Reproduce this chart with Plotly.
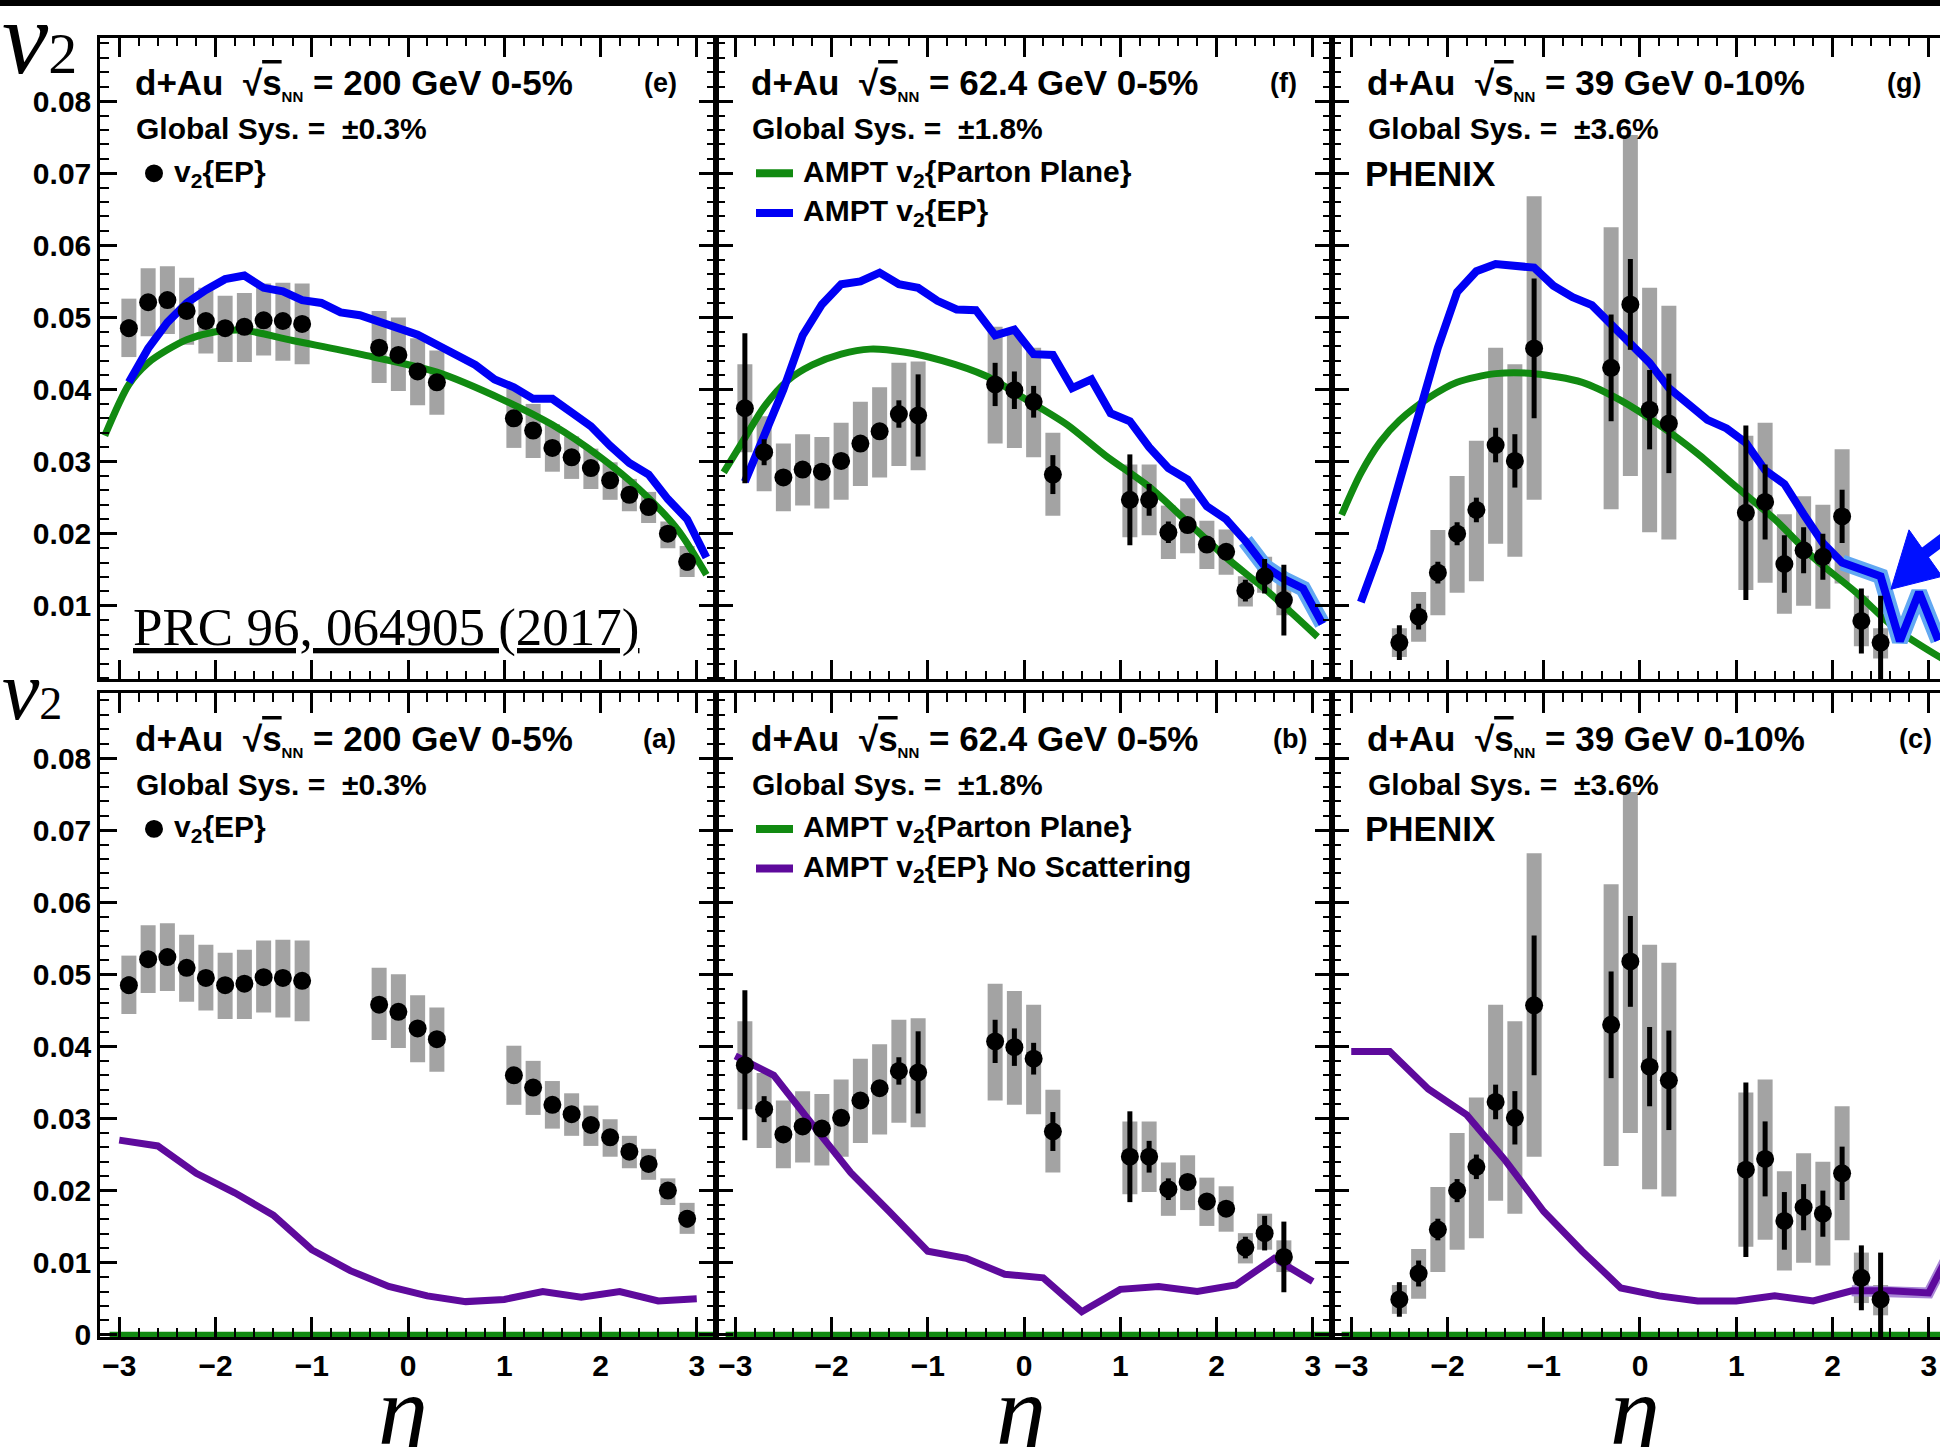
import plotly.graph_objects as go

W, H = 1940, 1447

# ---------------- data: PHENIX d+Au v2{EP} ----------------
eta_200 = [-2.9, -2.7, -2.5, -2.3, -2.1, -1.9, -1.7, -1.5, -1.3, -1.1,
           -0.3, -0.1, 0.1, 0.3, 1.1, 1.3, 1.5, 1.7, 1.9, 2.1, 2.3, 2.5, 2.7, 2.9]
v2_200 = [0.0485, 0.0521, 0.0524, 0.0509, 0.0495, 0.0485, 0.0487, 0.0496, 0.0495, 0.0491,
          0.0458, 0.0448, 0.0425, 0.0410, 0.0360, 0.0343, 0.0319, 0.0306, 0.0291, 0.0274,
          0.0254, 0.0237, 0.0200, 0.0161]
stat_200 = [0.0012, 0.0006, 0.0006, 0.0006, 0.0006, 0.0006, 0.0006, 0.0006, 0.0006, 0.0006,
            0.0006, 0.0006, 0.0006, 0.0006, 0.0006, 0.0006, 0.0006, 0.0006, 0.0006, 0.0006,
            0.0006, 0.0006, 0.0006, 0.0012]
sys_lo_200 = [0.0445, 0.0474, 0.0477, 0.0462, 0.0450, 0.0438, 0.0438, 0.0447, 0.0440, 0.0435,
              0.0409, 0.0398, 0.0378, 0.0365, 0.0319, 0.0305, 0.0286, 0.0276, 0.0262, 0.0247,
              0.0231, 0.0215, 0.0180, 0.0140]
sys_hi_200 = [0.0526, 0.0568, 0.0571, 0.0555, 0.0541, 0.0530, 0.0534, 0.0547, 0.0548, 0.0547,
              0.0509, 0.0500, 0.0471, 0.0454, 0.0401, 0.0380, 0.0352, 0.0335, 0.0318, 0.0299,
              0.0276, 0.0258, 0.0217, 0.0183]

eta_62 = [-2.9, -2.7, -2.5, -2.3, -2.1, -1.9, -1.7, -1.5, -1.3, -1.1,
          -0.3, -0.1, 0.1, 0.3, 1.1, 1.3, 1.5, 1.7, 1.9, 2.1, 2.3, 2.5, 2.7]
v2_62 = [0.0374, 0.0313, 0.0278, 0.0289, 0.0286, 0.0301, 0.0325, 0.0342, 0.0366, 0.0364,
         0.0407, 0.0399, 0.0383, 0.0282, 0.0247, 0.0247, 0.0202, 0.0212, 0.0185, 0.0175,
         0.0121, 0.0141, 0.0108]
stat_62 = [0.0104, 0.0018, 0.0008, 0.0008, 0.0008, 0.0008, 0.0008, 0.0008, 0.0019, 0.0057,
           0.0030, 0.0026, 0.0022, 0.0027, 0.0063, 0.0022, 0.0015, 0.0010, 0.0010, 0.0010,
           0.0015, 0.0024, 0.0049]
sys_lo_62 = [0.0313, 0.0259, 0.0231, 0.0239, 0.0235, 0.0247, 0.0266, 0.0278, 0.0294, 0.0288,
             0.0325, 0.0319, 0.0306, 0.0225, 0.0195, 0.0198, 0.0165, 0.0173, 0.0151, 0.0143,
             0.0099, 0.0118, 0.0087]
sys_hi_62 = [0.0435, 0.0363, 0.0325, 0.0338, 0.0334, 0.0354, 0.0383, 0.0403, 0.0437, 0.0439,
             0.0487, 0.0477, 0.0458, 0.0340, 0.0296, 0.0296, 0.0239, 0.0249, 0.0218, 0.0206,
             0.0141, 0.0168, 0.0131]

eta_39 = [-2.5, -2.3, -2.1, -1.9, -1.7, -1.5, -1.3, -1.1, -0.3, -0.1,
          0.1, 0.3, 1.1, 1.3, 1.5, 1.7, 1.9, 2.1, 2.3, 2.5]
v2_39 = [0.0049, 0.0085, 0.0146, 0.0200, 0.0233, 0.0323, 0.0301, 0.0457, 0.0430, 0.0518,
         0.0372, 0.0353, 0.0229, 0.0244, 0.0158, 0.0177, 0.0168, 0.0224, 0.0079, 0.0049]
stat_39 = [0.0024, 0.0018, 0.0015, 0.0016, 0.0017, 0.0024, 0.0037, 0.0097, 0.0074, 0.0063,
           0.0055, 0.0069, 0.0121, 0.0052, 0.0040, 0.0032, 0.0032, 0.0037, 0.0045, 0.0065]
sys_lo_39 = [0.0029, 0.0050, 0.0087, 0.0118, 0.0134, 0.0186, 0.0168, 0.0247, 0.0234, 0.0280,
             0.0202, 0.0192, 0.0122, 0.0132, 0.0089, 0.0100, 0.0096, 0.0131, 0.0044, 0.0027]
sys_hi_39 = [0.0069, 0.0119, 0.0205, 0.0280, 0.0329, 0.0458, 0.0435, 0.0668, 0.0625, 0.0753,
             0.0541, 0.0516, 0.0336, 0.0354, 0.0227, 0.0252, 0.0240, 0.0317, 0.0114, 0.0069]

# ---------------- AMPT curves ----------------
eta_ampt = [-2.9, -2.7, -2.5, -2.3, -2.1, -1.9, -1.7, -1.5, -1.3, -1.1, -0.9, -0.7, -0.5, -0.3,
            -0.1, 0.1, 0.3, 0.5, 0.7, 0.9, 1.1, 1.3, 1.5, 1.7, 1.9, 2.1, 2.3, 2.5, 2.7, 2.9, 3.1]
ampt_ep_200 = [0.0410, 0.0457, 0.0493, 0.0520, 0.0538, 0.0553, 0.0558, 0.0541, 0.0536, 0.0524,
               0.0520, 0.0507, 0.0503, 0.0494, 0.0487, 0.0476, 0.0462, 0.0448, 0.0434, 0.0414,
               0.0403, 0.0387, 0.0387, 0.0368, 0.0349, 0.0322, 0.0298, 0.0282, 0.0248, 0.0220,
               0.0167]
ampt_ep_62 = [0.0272, 0.0333, 0.0400, 0.0475, 0.0518, 0.0546, 0.0550, 0.0562, 0.0546, 0.0541,
              0.0523, 0.0511, 0.0510, 0.0475, 0.0483, 0.0449, 0.0448, 0.0402, 0.0414, 0.0367,
              0.0356, 0.0320, 0.0291, 0.0275, 0.0238, 0.0220, 0.0190, 0.0155, 0.0137, 0.0124,
              0.0075]
ampt_ep_39 = [0.0105, 0.0178, 0.0272, 0.0370, 0.0458, 0.0535, 0.0564, 0.0574, 0.0572, 0.0569,
              0.0544, 0.0528, 0.0517, 0.0491, 0.0465, 0.0437, 0.0402, 0.0380, 0.0358, 0.0346,
              0.0326, 0.0288, 0.0269, 0.0227, 0.0187, 0.0160, 0.0151, 0.0141, 0.0051, 0.0119,
              0.0052]

eta_pp_200 = [-3.15, -2.9, -2.7, -2.5, -2.3, -2.0, -1.7, -1.2, -0.5, 0.3, 1.0, 1.5, 2.0, 2.4, 2.8, 3.1]
ampt_pp_200 = [0.0336, 0.0407, 0.0437, 0.0455, 0.0469, 0.0480, 0.0482, 0.0468, 0.0449, 0.0424,
               0.0385, 0.0351, 0.0306, 0.0262, 0.0206, 0.0143]
eta_pp_62 = [-3.12, -2.9, -2.7, -2.45, -2.2, -1.9, -1.6, -1.25, -0.85, -0.4, 0.0, 0.45, 0.85,
             1.3, 1.7, 2.1, 2.55, 3.05]
ampt_pp_62 = [0.0285, 0.0333, 0.0376, 0.0413, 0.0434, 0.0449, 0.0456, 0.0452, 0.0440, 0.0419,
              0.0388, 0.0351, 0.0308, 0.0265, 0.0216, 0.0167, 0.0118, 0.0057]
eta_pp_39 = [-3.1, -2.9, -2.7, -2.5, -2.2, -1.9, -1.5, -1.1, -0.6, -0.2, 0.2, 0.6, 1.0, 1.4,
             1.8, 2.25, 2.65, 3.15]
ampt_pp_39 = [0.0226, 0.0284, 0.0327, 0.0357, 0.0388, 0.0410, 0.0422, 0.0422, 0.0410, 0.0385,
              0.0351, 0.0311, 0.0265, 0.0220, 0.0167, 0.0118, 0.0069, 0.0026]

eta_nosc = [-3.0, -2.6, -2.2, -1.8, -1.4, -1.0, -0.6, -0.2, 0.2, 0.6, 1.0, 1.4, 1.8, 2.2, 2.6, 3.0]
ampt_nosc_200 = [0.0270, 0.0262, 0.0224, 0.0197, 0.0166, 0.0118, 0.0089, 0.0067, 0.0054, 0.0046,
                 0.0049, 0.0060, 0.0052, 0.0060, 0.0047, 0.0050]
ampt_nosc_62 = [0.0387, 0.0360, 0.0292, 0.0225, 0.0171, 0.0116, 0.0106, 0.0084, 0.0079, 0.0032,
                0.0063, 0.0067, 0.0060, 0.0069, 0.0106, 0.0074]
eta_nosc_39 = [-3.0, -2.6, -2.2, -1.8, -1.4, -1.0, -0.6, -0.2, 0.2, 0.6, 1.0, 1.4, 1.8, 2.2, 2.6, 3.0, 3.2]
ampt_nosc_39 = [0.0393, 0.0393, 0.0341, 0.0305, 0.0242, 0.0171, 0.0116, 0.0065, 0.0054, 0.0047,
                0.0047, 0.0054, 0.0047, 0.0061, 0.0061, 0.0058, 0.0110]

eta_zero = [-3.1, 3.2]
ampt_pp_zero = [0.0, 0.0]

x_tickvals = [-3, -2, -1, 0, 1, 2, 3]
x_ticktext = ["\u22123", "\u22122", "\u22121", "0", "1", "2", "3"]
y_tickvals_bottom = [0, 0.01, 0.02, 0.03, 0.04, 0.05, 0.06, 0.07, 0.08]
y_ticktext_bottom = ["0", "0.01", "0.02", "0.03", "0.04", "0.05", "0.06", "0.07", "0.08"]
y_tickvals_top = [0.01, 0.02, 0.03, 0.04, 0.05, 0.06, 0.07, 0.08]
y_ticktext_top = ["0.01", "0.02", "0.03", "0.04", "0.05", "0.06", "0.07", "0.08"]

energies = ["200", "62.4", "39"]
centrality = ["0-5%", "0-5%", "0-10%"]
global_sys = ["\u00b10.3%", "\u00b11.8%", "\u00b13.6%"]
panel_tags = [["(e)", "(f)", "(g)"], ["(a)", "(b)", "(c)"]]

# ---------------- styling ----------------
BLUE = "#0000f5"
LBLUE = "#62a8f2"
GREEN = "#118a11"
PURPLE = "#5e0a9c"
LPURPLE = "#a987d6"
GRAY = "#a3a3a3"
SANS = "Liberation Sans"
SERIF = "Liberation Serif"

col_px = [(100, 716), (716, 1332), (1332, 1940)]
row_px = [(38, 686), (700, 1350)]
xr = [[-3.2, 3.2], [-3.2, 3.2], [-3.2, 3.117]]
yr = [[-0.0002, 0.0888], [-0.0003, 0.089]]

data = [
    (eta_200, v2_200, stat_200, sys_lo_200, sys_hi_200),
    (eta_62, v2_62, stat_62, sys_lo_62, sys_hi_62),
    (eta_39, v2_39, stat_39, sys_lo_39, sys_hi_39),
]
ampt_ep = [ampt_ep_200, ampt_ep_62, ampt_ep_39]
ampt_pp = [(eta_pp_200, ampt_pp_200), (eta_pp_62, ampt_pp_62), (eta_pp_39, ampt_pp_39)]
ampt_nosc = [(eta_nosc, ampt_nosc_200), (eta_nosc, ampt_nosc_62), (eta_nosc_39, ampt_nosc_39)]
band_start = [9.0, 2.3, 2.1]

fig = go.Figure()
layout = {}


def px_x(p):
    return p / W


def px_y(p):
    return 1 - p / H


tickfont = dict(family=SANS, size=30, color="black", weight="bold")

for r in range(2):
    for c in range(3):
        k = r * 3 + c + 1
        xa = "x" if k == 1 else f"x{k}"
        ya = "y" if k == 1 else f"y{k}"
        eta, v2, st, slo, shi = data[c]

        # systematic boxes
        fig.add_trace(go.Scatter(
            x=eta, y=v2, mode="markers", xaxis=xa, yaxis=ya, showlegend=False,
            marker=dict(size=1, opacity=0),
            error_y=dict(type="data", symmetric=False,
                         array=[h - v for h, v in zip(shi, v2)],
                         arrayminus=[v - l for v, l in zip(v2, slo)],
                         thickness=15, width=0, color=GRAY)))

        if r == 0:
            ex, ey = ampt_pp[c]
            fig.add_trace(go.Scatter(x=ex, y=ey, mode="lines", xaxis=xa, yaxis=ya,
                                     showlegend=False,
                                     line=dict(color=GREEN, width=7, shape="spline", smoothing=0.8)))
            bx = [e for e in eta_ampt if e >= band_start[c]]
            by = [v for e, v in zip(eta_ampt, ampt_ep[c]) if e >= band_start[c]]
            if bx:
                fig.add_trace(go.Scatter(x=bx, y=by, mode="lines", xaxis=xa, yaxis=ya,
                                         showlegend=False, line=dict(color=LBLUE, width=16)))
            fig.add_trace(go.Scatter(x=eta_ampt, y=ampt_ep[c], mode="lines", xaxis=xa, yaxis=ya,
                                     showlegend=False, line=dict(color=BLUE, width=8)))
        else:
            fig.add_trace(go.Scatter(x=eta_zero, y=ampt_pp_zero, mode="lines", xaxis=xa, yaxis=ya,
                                     showlegend=False, line=dict(color=GREEN, width=6)))
            nx, ny = ampt_nosc[c]
            if c == 2:
                fig.add_trace(go.Scatter(x=[e for e in nx if e >= 2.2],
                                         y=[v for e, v in zip(nx, ny) if e >= 2.2],
                                         mode="lines", xaxis=xa, yaxis=ya, showlegend=False,
                                         line=dict(color=LPURPLE, width=11)))
            fig.add_trace(go.Scatter(x=nx, y=ny, mode="lines", xaxis=xa, yaxis=ya,
                                     showlegend=False, line=dict(color=PURPLE, width=7)))

        # data points with statistical errors
        fig.add_trace(go.Scatter(
            x=eta, y=v2, mode="markers", xaxis=xa, yaxis=ya, showlegend=False,
            marker=dict(size=18, color="black"),
            error_y=dict(type="data", array=st, thickness=5, width=0, color="black")))

        xkey = "xaxis" if k == 1 else f"xaxis{k}"
        ykey = "yaxis" if k == 1 else f"yaxis{k}"
        xcfg = dict(
            domain=[px_x(col_px[c][0]), px_x(col_px[c][1])], range=xr[c], anchor=ya,
            showline=True, linecolor="black", linewidth=2.5, mirror="allticks",
            ticks="inside", ticklen=20, tickwidth=2.5, tickcolor="black",
            tickmode="array", tickvals=x_tickvals,
            minor=dict(ticks="inside", ticklen=9, tickwidth=2, tickcolor="black",
                       tickmode="linear", tick0=0, dtick=0.2),
            showgrid=False, zeroline=False, fixedrange=True)
        if r == 1:
            xcfg.update(ticktext=x_ticktext, showticklabels=True, tickfont=tickfont)
        else:
            xcfg.update(showticklabels=False)
        layout[xkey] = xcfg

        ycfg = dict(
            domain=[px_y(row_px[r][1]), px_y(row_px[r][0])], range=yr[r], anchor=xa,
            showline=True, linecolor="black", linewidth=2.5,
            mirror=("allticks" if c < 2 else False),
            ticks="inside", ticklen=17, tickwidth=2.5, tickcolor="black",
            tickmode="array",
            tickvals=(y_tickvals_top if r == 0 else y_tickvals_bottom),
            minor=dict(ticks="inside", ticklen=9, tickwidth=2, tickcolor="black",
                       tickmode="linear", tick0=0, dtick=0.002),
            showgrid=False, zeroline=False, fixedrange=True)
        if c == 0:
            ycfg.update(ticktext=(y_ticktext_top if r == 0 else y_ticktext_bottom),
                        showticklabels=True, tickfont=tickfont)
        else:
            ycfg.update(showticklabels=False)
        layout[ykey] = ycfg

# right-edge tick stubs of the (cut) third column
for r, key, ov in [(0, "yaxis7", "y3"), (1, "yaxis8", "y6")]:
    layout[key] = dict(
        overlaying=ov, anchor="free", position=1, side="right", range=yr[r],
        showline=False, ticks="inside", ticklen=8, tickwidth=2.5, tickcolor="black",
        tickmode="array", tickvals=(y_tickvals_top if r == 0 else y_tickvals_bottom),
        showticklabels=False,
        minor=dict(ticks="inside", ticklen=3, tickwidth=2, tickcolor="black",
                   tickmode="linear", tick0=0, dtick=0.002),
        showgrid=False, zeroline=False, fixedrange=True)

annotations = []
shapes = []


def txt(x, y, text, size=30, family=SANS, bold=True, xanchor="left", yanchor="middle", italic=False):
    f = dict(family=family, size=size, color="black")
    if bold:
        f["weight"] = "bold"
    if italic:
        f["style"] = "italic"
    annotations.append(dict(x=px_x(x), y=px_y(y), xref="paper", yref="paper", text=text,
                            showarrow=False, xanchor=xanchor, yanchor=yanchor, font=f))


tag_x = [[660, 1283, 1904], [659, 1290, 1915]]
for r in range(2):
    top = row_px[r][0]
    for c in range(3):
        left = col_px[c][0]
        line1 = ("d+Au\u00a0\u00a0\u221a<span style=\"text-decoration:overline\">s</span>"
                 "<sub><span style=\"font-size:15px\">NN</span></sub> = "
                 f"{energies[c]} GeV {centrality[c]}")
        txt(left + 33, top + 47, line1, size=35)
        txt(left + 34, top + 92, f"Global Sys. = \u00a0{global_sys[c]}", size=30)
        txt(tag_x[r][c], top + 46, panel_tags[r][c], size=27, xanchor="center")
        if c == 0:
            cx, cy = left + 54, top + 137
            shapes.append(dict(type="circle", xref="paper", yref="paper",
                               x0=px_x(cx - 9), x1=px_x(cx + 9), y0=px_y(cy + 9), y1=px_y(cy - 9),
                               fillcolor="black", line=dict(width=0)))
            txt(left + 72, top + 137, "v<sub>2</sub>{EP}", size=30)
        elif c == 1:
            shapes.append(dict(type="line", xref="paper", yref="paper",
                               x0=px_x(left + 40), x1=px_x(left + 77), y0=px_y(top + 137),
                               y1=px_y(top + 137), line=dict(color=GREEN, width=8)))
            txt(left + 85, top + 137, "AMPT v<sub>2</sub>{Parton Plane}", size=30)
            col2 = BLUE if r == 0 else PURPLE
            shapes.append(dict(type="line", xref="paper", yref="paper",
                               x0=px_x(left + 40), x1=px_x(left + 77), y0=px_y(top + 177),
                               y1=px_y(top + 177), line=dict(color=col2, width=8)))
            txt(left + 85, top + 177,
                "AMPT v<sub>2</sub>{EP}" + ("" if r == 0 else " No Scattering"), size=30)
        else:
            txt(left + 31, top + 137, "PHENIX", size=35)

# axis titles (v2, eta) in serif math style
txt(0, 38, "v<span style=\"font-style:normal;font-size:58px\">2</span>", size=104,
    family=SERIF, bold=False, italic=True)
txt(0, 697, "v<span style=\"font-style:normal;font-size:46px\">2</span>", size=84,
    family=SERIF, bold=False, italic=True)
for xc in [403, 1021, 1635]:
    txt(xc, 1366, "\u03b7", size=100, family=SERIF, bold=False, xanchor="center",
        yanchor="top", italic=True)

# reference
txt(131, 634, "<u>PRC 96, 064905 (2017)</u>", size=53, family=SERIF, bold=False)

# arrow in panel (g)
ARROW = "#0010ff"
shapes.append(dict(type="line", xref="paper", yref="paper",
                   x0=px_x(1920), y0=px_y(562), x1=px_x(1965), y1=px_y(528),
                   line=dict(color=ARROW, width=12)))
head = [(1891, 595), (1909, 535), (1942, 582)]
path = "M " + " L ".join(f"{px_x(a):.5f},{px_y(b):.5f}" for a, b in head) + " Z"
shapes.append(dict(type="path", xref="paper", yref="paper", path=path,
                   fillcolor=ARROW, line=dict(color=ARROW, width=1)))

# top black band
shapes.append(dict(type="rect", xref="paper", yref="paper", x0=0, x1=1, y0=px_y(6), y1=1,
                   fillcolor="black", line=dict(width=0), layer="above"))

fig.update_layout(
    width=W, height=H, margin=dict(l=0, r=0, t=0, b=0),
    paper_bgcolor="white", plot_bgcolor="white",
    showlegend=False, annotations=annotations, shapes=shapes, **layout)

fig.write_html("out.html")
